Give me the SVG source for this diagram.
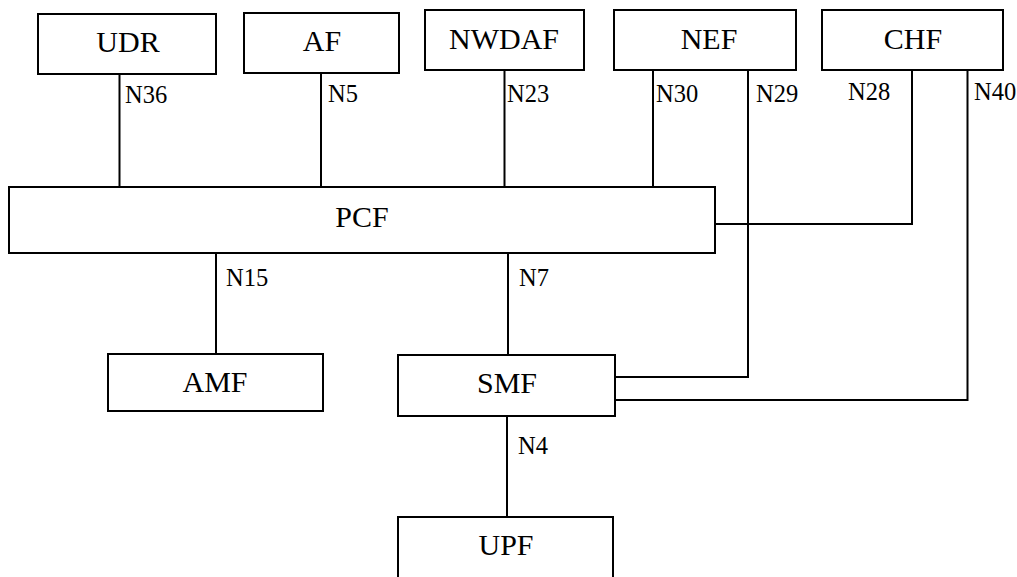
<svg xmlns="http://www.w3.org/2000/svg" width="1017" height="577" viewBox="0 0 1017 577">
<style>
.box{fill:#fff;stroke:#000;stroke-width:2}
.nt{font-family:"Liberation Serif","Times New Roman",serif;font-size:30px;fill:#000;text-anchor:middle}
.lt{font-family:"Liberation Serif","Times New Roman",serif;font-size:24.5px;fill:#000}
.ln{fill:none;stroke:#000;stroke-width:2}
</style>
<rect width="1017" height="577" fill="#fff"/>
<g id="connectors">
<path class="ln" d="M119.5 74V187"/>
<path class="ln" d="M321 73V187"/>
<path class="ln" d="M504.5 70V187"/>
<path class="ln" d="M653 70V187"/>
<path class="ln" d="M748 70V377H615"/>
<path class="ln" d="M912 70V224H715"/>
<path class="ln" d="M967.5 70V400H615"/>
<path class="ln" d="M216 253V354"/>
<path class="ln" d="M508 253V355"/>
<path class="ln" d="M507 416V517"/>
<text class="lt" x="125" y="103">N36</text>
<text class="lt" x="328" y="102">N5</text>
<text class="lt" x="507" y="102">N23</text>
<text class="lt" x="656" y="102">N30</text>
<text class="lt" x="756" y="102">N29</text>
<text class="lt" x="848" y="100">N28</text>
<text class="lt" x="974" y="100">N40</text>
<text class="lt" x="226" y="286">N15</text>
<text class="lt" x="519" y="286">N7</text>
<text class="lt" x="518" y="454">N4</text>
</g>
<g id="udr"><rect class="box" x="38" y="14" width="178" height="60"/><text class="nt" x="128" y="52">UDR</text></g>
<g id="af"><rect class="box" x="244" y="13" width="155" height="60"/><text class="nt" x="322" y="51">AF</text></g>
<g id="nwdaf"><rect class="box" x="425" y="10" width="159" height="60"/><text class="nt" x="504" y="49">NWDAF</text></g>
<g id="nef"><rect class="box" x="614" y="10" width="182" height="60"/><text class="nt" x="709" y="49">NEF</text></g>
<g id="chf"><rect class="box" x="822" y="10" width="181" height="60"/><text class="nt" x="913" y="49">CHF</text></g>
<g id="pcf"><rect class="box" x="9" y="187" width="706" height="66"/><text class="nt" x="362" y="227">PCF</text></g>
<g id="amf"><rect class="box" x="108" y="354" width="215" height="57"/><text class="nt" x="215" y="392">AMF</text></g>
<g id="smf"><rect class="box" x="398" y="355" width="217" height="61"/><text class="nt" x="507" y="393">SMF</text></g>
<g id="upf"><rect class="box" x="398" y="517" width="215" height="70"/><text class="nt" x="506" y="555">UPF</text></g>
</svg>
